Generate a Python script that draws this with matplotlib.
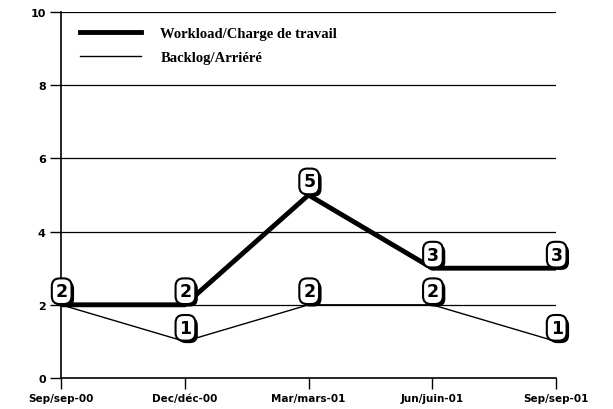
import matplotlib
matplotlib.use("Agg")
import matplotlib.pyplot as plt
import matplotlib.patheffects as pe
from matplotlib.lines import Line2D

# donnees
periodes = ["Sep/sep-00", "Dec/déc-00", "Mar/mars-01", "Jun/juin-01", "Sep/sep-01"]
charge = [2, 2, 5, 3, 3]
arriere = [2, 1, 2, 2, 1]
nom_charge = "Workload/Charge de travail"
nom_arriere = "Backlog/Arriéré"
yticks = [0, 2, 4, 6, 8, 10]

fig = plt.figure(figsize=(6.13, 4.10), dpi=100)
ax = fig.add_axes([61/613, 31/410, 495/613, 366/410])

x = list(range(len(periodes)))

# grille horizontale
for v in yticks[1:]:
    ax.axhline(v, color="black", lw=0.9, zorder=1)

ax.plot(x, arriere, color="black", lw=1.0, zorder=2)
ax.plot(x, charge, color="black", lw=3.5, zorder=3)

def etiquette(xi, yi, txt):
    # boite blanche arrondie avec ombre noire
    t = ax.annotate(txt, (xi, yi), xytext=(0.5, 3.3), textcoords="offset points",
                    ha="center", va="bottom", fontsize=12.5, fontweight="bold",
                    color="black", zorder=6, annotation_clip=False,
                    bbox=dict(boxstyle="round,pad=0.22,rounding_size=0.45",
                              fc="white", ec="black", lw=1.5))
    t.get_bbox_patch().set_path_effects([
        pe.SimplePatchShadow(offset=(1.8, -1.8), shadow_rgbFace="black", alpha=1),
        pe.Normal()])

for i in x:
    etiquette(i, arriere[i], str(arriere[i]))
    if charge[i] != arriere[i]:
        etiquette(i, charge[i], str(charge[i]))
    elif i != 0:
        etiquette(i, charge[i], str(charge[i]))

ax.set_xlim(0, len(periodes) - 1)
ax.set_ylim(0, 10)
ax.set_xticks(x)
ax.set_xticklabels(periodes, fontsize=7.5, fontweight="heavy")
ax.set_yticks(yticks)
ax.set_yticklabels([str(v) for v in yticks], fontsize=8, fontweight="heavy")
ax.tick_params(direction="out", length=8, width=1, pad=3)
for s in ["top", "right"]:
    ax.spines[s].set_visible(False)
for s in ["left", "bottom"]:
    ax.spines[s].set_linewidth(1.2)

# legende
h1 = Line2D([], [], color="black", lw=3.5)
h2 = Line2D([], [], color="black", lw=1.0)
leg = ax.legend([h1, h2], [nom_charge, nom_arriere], loc="upper left",
                bbox_to_anchor=(0.012, 0.995), frameon=False, handlelength=4.2,
                handletextpad=1.3, labelspacing=0.75,
                prop=dict(family="Liberation Serif", weight="bold", size=10.5))
leg.set_zorder(7)

fig.savefig("out.png", dpi=100)
